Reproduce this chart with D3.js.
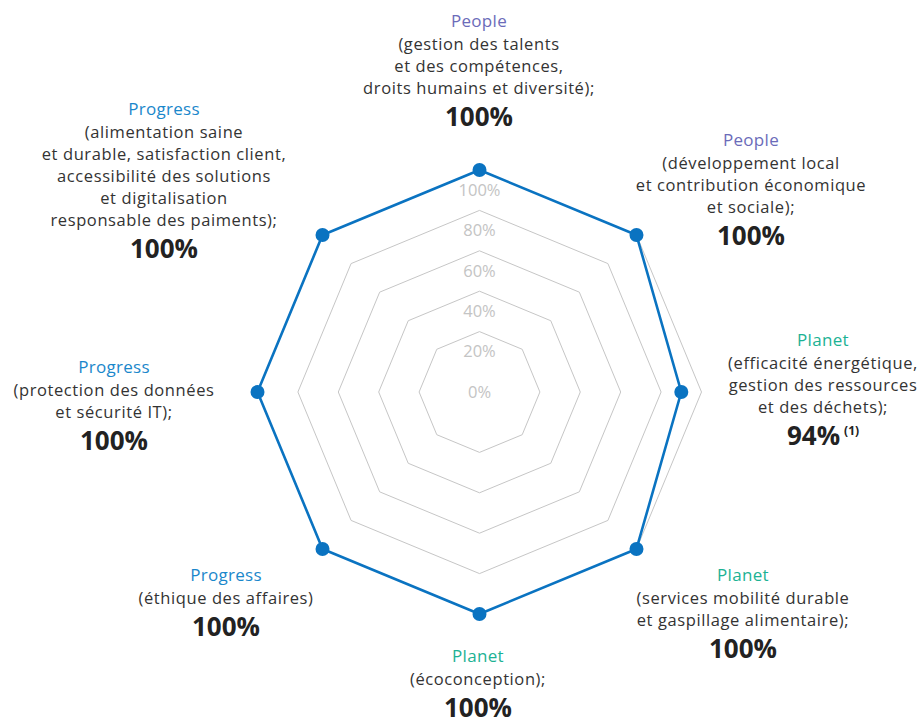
<!DOCTYPE html>
<html>
<head>
<meta charset="utf-8">
<script src="https://cdn.jsdelivr.net/npm/d3@7"></script>
<style>
  body { margin: 0; background: #fff; }
  svg { display: block; font-family: "Open Sans", sans-serif; }
</style>
</head>
<body>
<svg id="chart" width="923" height="719"></svg>
<script>
// Data
// ----
var pillars = ["People", "People", "Planet", "Planet", "Planet", "Progress", "Progress", "Progress"];
var topics = [
  ["(gestion des talents", "et des compétences,", "droits humains et diversité);"],
  ["(développement local", "et contribution économique", "et sociale);"],
  ["(efficacité énergétique,", "gestion des ressources", "et des déchets);"],
  ["(services mobilité durable", "et gaspillage alimentaire);"],
  ["(écoconception);"],
  ["(éthique des affaires)"],
  ["(protection des données", "et sécurité IT);"],
  ["(alimentation saine", "et durable, satisfaction client,", "accessibilité des solutions", "et digitalisation", "responsable des paiments);"]
];
var scoreLabels = ["100%", "100%", "94%", "100%", "100%", "100%", "100%", "100%"];
var notes = ["", "", "(1)", "", "", "", "", ""];
var plotted = [100, 100, 90, 100, 100, 100, 100, 100];
var ticks = [0, 20, 40, 60, 80, 100];

// Layout
// ------
var cx = 479.5, cy = 392;
var pillarColor = { People: "#6b6bb9", Planet: "#1cb294", Progress: "#1a87cb" };
// label block anchors: centre x, title y
var blockPos = [[479, 21], [751, 140], [823, 340], [743, 575], [478, 656], [226, 575], [114, 367], [164, 109]];

var svg = d3.select("#chart");
var g = svg.append("g").attr("transform", "translate(" + cx + "," + cy + ")");

var r = d3.scaleLinear().domain([0, 100]).range([20, 222]);
var angle = d3.scaleLinear().domain([0, plotted.length]).range([0, 2 * Math.PI]);

var radial = d3.lineRadial()
  .angle(function(d) { return angle(d.i); })
  .radius(function(d) { return r(d.v); })
  .curve(d3.curveLinearClosed);

// Grid octagons
// -------------
g.selectAll(".grid")
  .data(ticks.filter(function(t) { return t > 0; }))
  .enter().append("path")
  .attr("class", "grid")
  .attr("d", function(t) { return radial(plotted.map(function(_, i) { return {i: i, v: t}; })); })
  .attr("fill", "none")
  .attr("stroke", "#c6c6c6")
  .attr("stroke-width", 1);

// Tick labels
// -----------
g.selectAll(".tick")
  .data(ticks)
  .enter().append("text")
  .attr("class", "tick")
  .attr("x", 0)
  .attr("y", function(t) { return -r(t) + 20; })
  .attr("dy", "0.35em")
  .attr("text-anchor", "middle")
  .attr("fill", "#c4c4c4")
  .attr("font-size", 16.5)
  .text(function(t) { return t + "%"; });

// Series
// ------
var pts = plotted.map(function(v, i) { return {i: i, v: v}; });
g.append("path")
  .attr("d", radial(pts))
  .attr("fill", "none")
  .attr("stroke", "#0a73c1")
  .attr("stroke-width", 2.6)
  .attr("stroke-linejoin", "round");

g.selectAll(".dot")
  .data(pts)
  .enter().append("circle")
  .attr("class", "dot")
  .attr("cx", function(d) { return r(d.v) * Math.sin(angle(d.i)); })
  .attr("cy", function(d) { return -r(d.v) * Math.cos(angle(d.i)); })
  .attr("r", 7)
  .attr("fill", "#0a73c1");

// Labels
// ------
pillars.forEach(function(p, i) {
  var x = blockPos[i][0], y = blockPos[i][1];
  var block = svg.append("g").attr("text-anchor", "middle");

  block.append("text")
    .attr("x", x).attr("y", y).attr("dy", "0.35em")
    .attr("fill", pillarColor[p])
    .attr("font-size", 17)
    .attr("letter-spacing", 0.3)
    .text(p);

  topics[i].forEach(function(line, k) {
    block.append("text")
      .attr("x", x).attr("y", y + 23 + 22 * k).attr("dy", "0.35em")
      .attr("fill", "#333")
      .attr("font-size", 16.5)
      .attr("letter-spacing", 0.6)
      .text(line);
  });

  var py = y + 23 + 22 * (topics[i].length - 1) + 28.5;
  var t = block.append("text")
    .attr("x", x).attr("y", py).attr("dy", "0.36em")
    .attr("fill", "#222")
    .attr("font-size", 26)
    .attr("font-weight", "bold");
  t.append("tspan").text(scoreLabels[i]);
  if (notes[i]) {
    t.append("tspan")
      .attr("dx", 4).attr("dy", -10)
      .attr("font-size", 12)
      .text(notes[i]);
  }
});
</script>
</body>
</html>
